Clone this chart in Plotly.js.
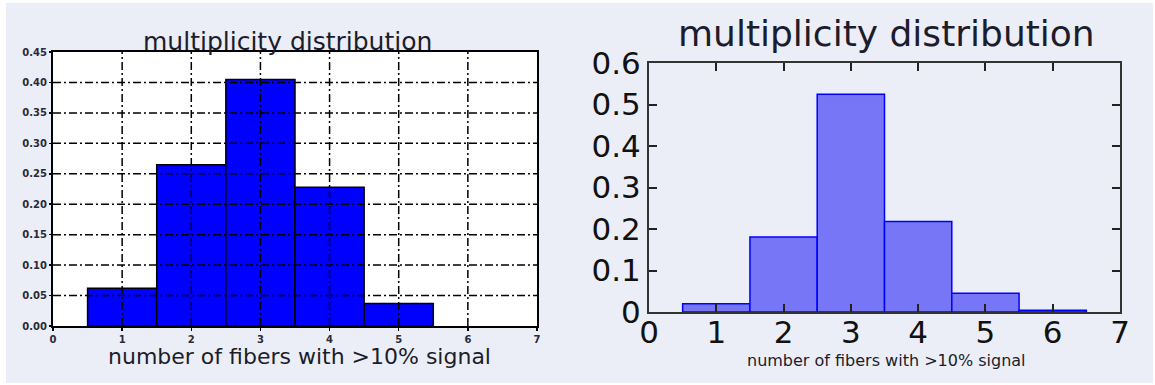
<!DOCTYPE html>
<html>
<head>
<meta charset="utf-8">
<script src="https://cdn.plot.ly/plotly-3.0.1.min.js"></script>
<style>
html,body{margin:0;padding:0;background:#fff;}
#chart{width:1155px;height:385px;}
</style>
</head>
<body>
<div id="chart"></div>
<script>
// ---- data ----
const binCenters = [1, 2, 3, 4, 5];
const leftFractions = [0.062, 0.265, 0.405, 0.228, 0.037];
const binCentersRight = [1, 2, 3, 4, 5, 6];
const rightFractions = [0.020, 0.181, 0.525, 0.218, 0.045, 0.004];
const panelTitle = "multiplicity distribution";
const xLabel = "number of fibers with >10% signal";
const leftXTicks = [0, 1, 2, 3, 4, 5, 6, 7];
const leftYTicks = [0, 0.05, 0.10, 0.15, 0.20, 0.25, 0.30, 0.35, 0.40, 0.45];
const rightXTicks = [0, 1, 2, 3, 4, 5, 6, 7];
const rightYTicks = [0, 0.1, 0.2, 0.3, 0.4, 0.5, 0.6];

const W = 1155, H = 385;
const px = v => v / W;
const py = v => 1 - v / H;

const FONT = "DejaVu Sans, Verdana, sans-serif";
const TXT = "#1c1c2c";

const traces = [
  {
    type: "bar", x: binCenters, y: leftFractions, width: 1,
    xaxis: "x", yaxis: "y",
    marker: { color: "#0000ff", line: { color: "#000000", width: 1.5 } },
    hoverinfo: "x+y"
  },
  {
    type: "bar", x: binCentersRight, y: rightFractions, width: 1,
    xaxis: "x2", yaxis: "y2",
    marker: { color: "#7676f6", line: { color: "#0000ff", width: 1.5 } },
    hoverinfo: "x+y"
  }
];

const shapes = [
  // page background
  { type: "rect", xref: "paper", yref: "paper", x0: px(6), x1: px(1153), y0: py(383), y1: py(3),
    fillcolor: "#ebeef6", line: { width: 0 }, layer: "below" },
  // left plot area white
  { type: "rect", xref: "x domain", yref: "y domain", x0: 0, x1: 1, y0: 0, y1: 1,
    fillcolor: "#ffffff", line: { width: 0 }, layer: "below" }
];
const gridDash = "8px,3px,2px,3px";
leftXTicks.slice(1, -1).forEach(t => shapes.push({
  type: "line", xref: "x", yref: "y domain", x0: t, x1: t, y0: 0, y1: 1,
  line: { color: "#000", width: 1.5, dash: gridDash }, layer: "above"
}));
leftYTicks.slice(1, -1).forEach(t => shapes.push({
  type: "line", xref: "x domain", yref: "y", x0: 0, x1: 1, y0: t, y1: t,
  line: { color: "#000", width: 1.5, dash: gridDash }, layer: "above"
}));

const layout = {
  width: W, height: H,
  margin: { l: 0, r: 0, t: 0, b: 0, pad: 0 },
  paper_bgcolor: "#ffffff",
  plot_bgcolor: "rgba(0,0,0,0)",
  showlegend: false,
  bargap: 0,
  font: { family: FONT, color: TXT },
  xaxis: {
    domain: [px(53), px(537)], range: [0, 7], anchor: "y",
    tickmode: "array", tickvals: leftXTicks, ticktext: leftXTicks.map(String),
    ticks: "outside", ticklen: 3, tickcolor: "#000", tickwidth: 1.5,
    showgrid: false, zeroline: false,
    showline: true, linecolor: "#000", linewidth: 2, mirror: true,
    tickfont: { size: 10, family: FONT, weight: "bold", color: "#2a2a3a" },
    layer: "above traces", fixedrange: true
  },
  yaxis: {
    domain: [py(326), py(52)], range: [0, 0.45], anchor: "x",
    tickmode: "array", tickvals: leftYTicks, ticktext: leftYTicks.map(v => v.toFixed(2)),
    ticks: "outside", ticklen: 2, tickcolor: "#000", tickwidth: 1.5,
    showgrid: false, zeroline: false,
    showline: true, linecolor: "#000", linewidth: 2, mirror: true,
    tickfont: { size: 10, family: FONT, weight: "bold", color: "#2a2a3a" },
    layer: "above traces", fixedrange: true
  },
  xaxis2: {
    domain: [px(649), px(1120)], range: [0, 7], anchor: "y2",
    tickmode: "array", tickvals: rightXTicks, ticktext: rightXTicks.map(String),
    ticks: "inside", ticklen: 8, tickcolor: "#222", tickwidth: 2,
    showgrid: false, zeroline: false,
    showline: true, linecolor: "#333", linewidth: 2, mirror: "allticks",
    tickfont: { size: 31, family: FONT, color: "#111" },
    ticklabelstandoff: -8,
    layer: "above traces", fixedrange: true
  },
  yaxis2: {
    domain: [py(312), py(63)], range: [0, 0.6], anchor: "x2",
    tickmode: "array", tickvals: rightYTicks, ticktext: rightYTicks.map(v => v === 0 ? "0" : v.toFixed(1)),
    ticks: "inside", ticklen: 8, tickcolor: "#222", tickwidth: 2,
    showgrid: false, zeroline: false,
    showline: true, linecolor: "#333", linewidth: 2, mirror: "allticks",
    tickfont: { size: 31, family: FONT, color: "#111" },
    layer: "above traces", fixedrange: true
  },
  shapes: shapes,
  annotations: [
    { text: panelTitle, xref: "paper", yref: "paper", x: px(287), y: py(41),
      xanchor: "center", yanchor: "middle", showarrow: false,
      font: { size: 25, family: FONT, color: TXT } },
    { text: xLabel, xref: "paper", yref: "paper", x: px(299), y: py(356),
      xanchor: "center", yanchor: "middle", showarrow: false,
      font: { size: 22, family: FONT, color: TXT } },
    { text: panelTitle, xref: "paper", yref: "paper", x: px(886), y: py(33),
      xanchor: "center", yanchor: "middle", showarrow: false,
      font: { size: 36, family: FONT, color: TXT } },
    { text: xLabel, xref: "paper", yref: "paper", x: px(886), y: py(360),
      xanchor: "center", yanchor: "middle", showarrow: false,
      font: { size: 16, family: FONT, color: TXT } }
  ]
};

Plotly.newPlot("chart", traces, layout, { displayModeBar: false, staticPlot: true });
</script>
</body>
</html>
